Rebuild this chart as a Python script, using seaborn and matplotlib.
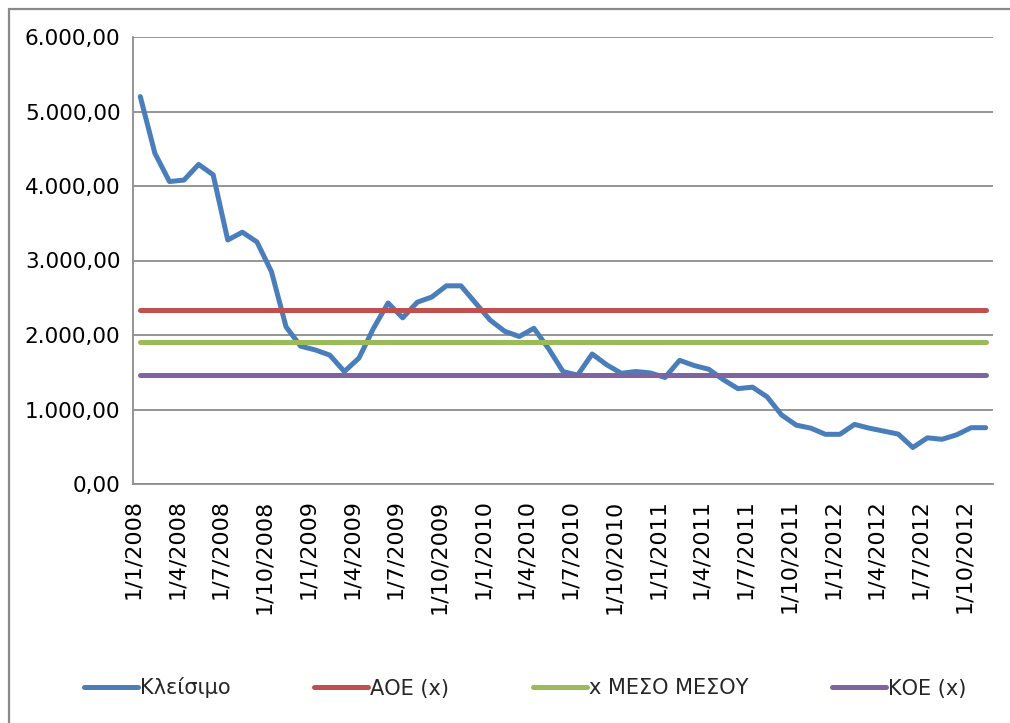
import matplotlib
matplotlib.use("Agg")
import matplotlib.pyplot as plt
import matplotlib.patches as mpatches
import numpy as np
import pandas as pd
import seaborn as sns
from matplotlib.ticker import FuncFormatter, MultipleLocator

# monthly close, Jan 2008 .. Nov 2012
close = [5200, 4440, 4060, 4080, 4290, 4150, 3275, 3380, 3250, 2850,
         2110, 1850, 1800, 1730, 1510, 1690, 2090, 2430, 2230, 2440,
         2510, 2660, 2660, 2430, 2200, 2050, 1980, 2090, 1820, 1510,
         1460, 1745, 1600, 1486, 1510, 1490, 1430, 1660, 1590, 1540,
         1400, 1280, 1300, 1170, 926, 790, 750, 667, 667, 800,
         750, 710, 670, 490, 620, 600, 660, 756, 756]
aoe = 2335
meso = 1902
koe = 1463

tick_labels = ["1/1/2008", "1/4/2008", "1/7/2008", "1/10/2008",
               "1/1/2009", "1/4/2009", "1/7/2009", "1/10/2009",
               "1/1/2010", "1/4/2010", "1/7/2010", "1/10/2010",
               "1/1/2011", "1/4/2011", "1/7/2011", "1/10/2011",
               "1/1/2012", "1/4/2012", "1/7/2012", "1/10/2012"]

series_names = ["Κλείσιμο", "ΑΟΕ (x)", "x ΜΕΣΟ ΜΕΣΟΥ", "ΚΟΕ (x)"]
colors = ["#4A7EBB", "#C0504D", "#9BBB59", "#8064A2"]

n = len(close)
df = pd.DataFrame({
    "month": np.arange(n),
    series_names[0]: close,
    series_names[1]: [aoe] * n,
    series_names[2]: [meso] * n,
    series_names[3]: [koe] * n,
})
long = df.melt(id_vars="month", var_name="series", value_name="value")

sns.set_style("white")
plt.rcParams["font.family"] = ["DejaVu Sans"]

fig = plt.figure(figsize=(10.10, 7.23), dpi=100)
ax = fig.add_axes([133 / 1010, 1 - 484 / 723, 860 / 1010, 447 / 723])

sns.lineplot(data=long, x="month", y="value", hue="series",
             hue_order=series_names, palette=colors, linewidth=3.6,
             ax=ax, legend=False, zorder=3)

grid_c = "#8C8C8C"
ax.set_xlim(-0.5, n - 0.5)
ax.set_ylim(0, 6000)
ax.yaxis.set_major_locator(MultipleLocator(1000))
ax.yaxis.set_major_formatter(FuncFormatter(
    lambda v, _: f"{v:,.2f}".replace(",", "X").replace(".", ",").replace("X", ".")))
ax.yaxis.grid(True, color=grid_c, linewidth=1.3)
ax.set_axisbelow(True)

ax.set_xticks([-0.5 + 3 * k for k in range(len(tick_labels))])
ax.set_xticklabels(tick_labels, rotation=90, va="top", ha="center")

for side in ["top", "right"]:
    ax.spines[side].set_visible(False)
for side in ["left", "bottom"]:
    ax.spines[side].set_color(grid_c)
    ax.spines[side].set_linewidth(1.3)

ax.tick_params(axis="both", direction="out", length=5, color=grid_c,
               width=1.3, labelsize=15.5, labelcolor="black")
ax.tick_params(axis="x", labelsize=16, pad=6)
ax.tick_params(axis="y", pad=4)
ax.set_xlabel("")
ax.set_ylabel("")

# legend along the bottom
handles = [plt.Line2D([], [], color=c, linewidth=3.6) for c in colors]
fig.legend(handles, series_names, loc="center left",
           bbox_to_anchor=(84 / 1010, 1 - 688 / 723), ncol=4, frameon=False,
           handlelength=2.6, handletextpad=0.1, columnspacing=4.0,
           prop={"size": 15},
           borderaxespad=0, borderpad=0)

# outer chart frame
frame = mpatches.Rectangle((9 / 1010, -0.1), 1.2, 1 - 9 / 723 + 0.1,
                           transform=fig.transFigure, fill=False,
                           edgecolor="#8A8A8A", linewidth=1.6)
fig.patches.append(frame)

fig.savefig("out.png", dpi=100)
